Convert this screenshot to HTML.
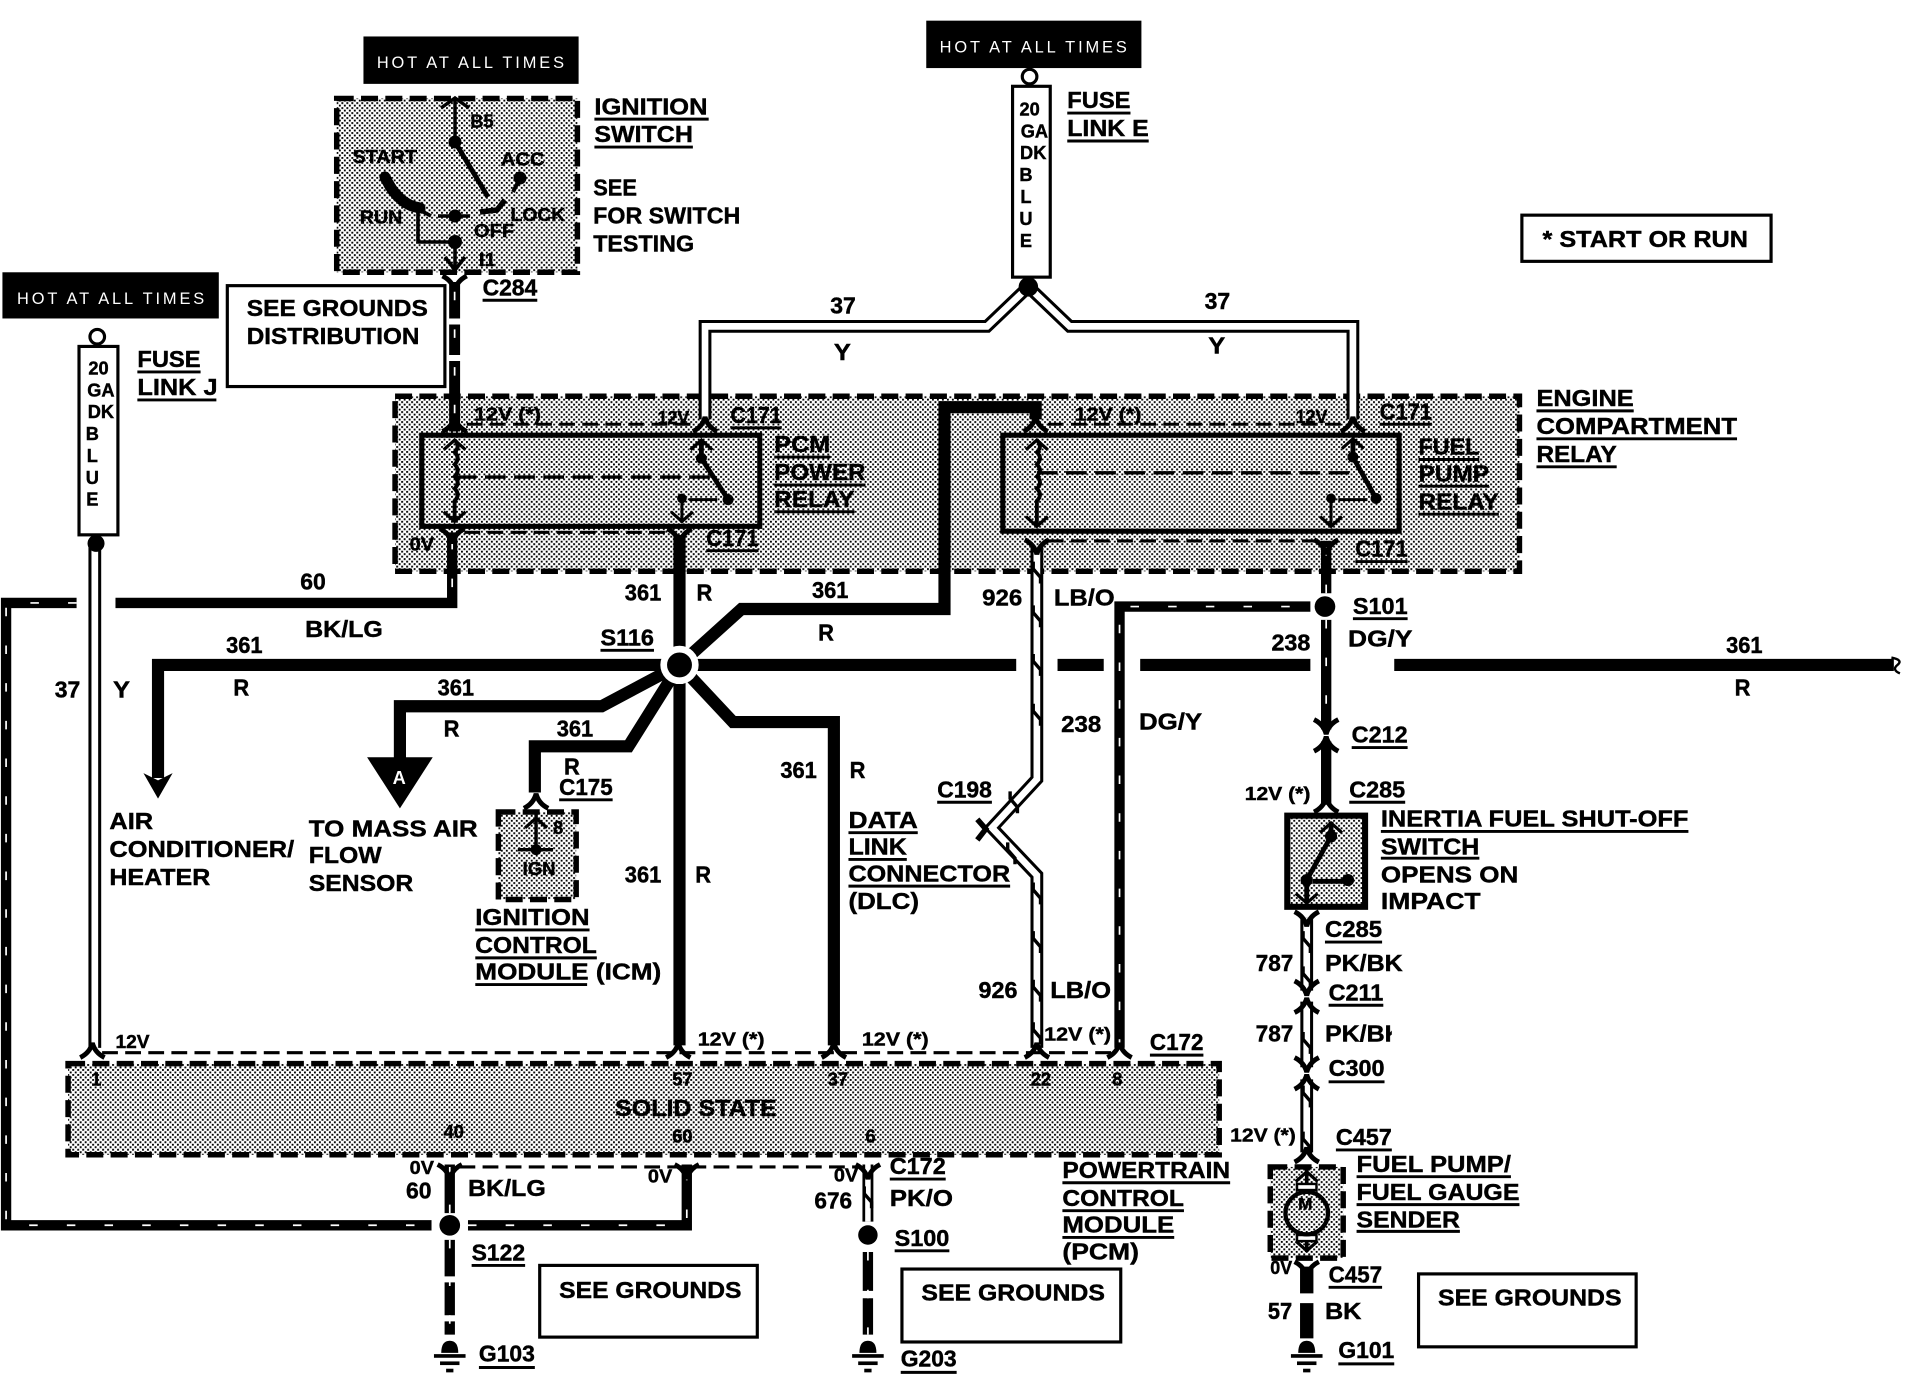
<!DOCTYPE html>
<html><head><meta charset="utf-8"><title>Fuel pump wiring diagram</title>
<style>
html,body{margin:0;padding:0;background:#fff}
svg{display:block}
text{font-family:"Liberation Sans",sans-serif;font-weight:700;fill:#000;font-size:19px;stroke:#000;stroke-width:.35}
.s{font-size:15px}
text.w{fill:#fff;stroke:none;font-weight:400;font-size:13.5px}
.d{fill:none;stroke:#000;stroke-width:4.5;stroke-dasharray:14 6}
.n{fill:none;stroke:#000;stroke-width:2.5;stroke-dasharray:13 6}
.b{fill:none;stroke:#000;stroke-width:10}
.m{fill:none;stroke:#000;stroke-width:8.5}
.l{fill:none;stroke:#000;stroke-width:3}
.t{fill:none;stroke:#fff;stroke-width:1.4;stroke-dasharray:7 24}
.dw{fill:none;stroke:#000;stroke-width:10.5}
.wi{fill:none;stroke:#fff;stroke-width:5.5}
.u{stroke:#000;stroke-width:2.4}
.r{fill:#fff;stroke:#000;stroke-width:2.6}
</style></head><body>
<svg xmlns="http://www.w3.org/2000/svg" width="1906" height="1376" viewBox="0 0 1906 1376">
<defs>
<pattern id="p" width="4.1" height="4.1" patternUnits="userSpaceOnUse"><rect width="4.1" height="4.1" fill="#fff"/><rect width="1.55" height="1.55" fill="#000"/><rect x="2.05" y="2.05" width="1.55" height="1.55" fill="#000"/></pattern>
<path id="fd" d="M-10,-8 Q-2,-4 0,4 Q2,-4 10,-8" fill="none" stroke="#000" stroke-width="4"/>
<path id="fu" d="M-10,8 Q-2,4 0,-4 Q2,4 10,8" fill="none" stroke="#000" stroke-width="4"/>
<path id="ad" d="M-9,-7 L0,1 L9,-7" fill="none" stroke="#000" stroke-width="2.6"/>
<path id="au" d="M-9,7 L0,-1 L9,7" fill="none" stroke="#000" stroke-width="2.6"/>
<path id="z" d="M-3,-9 L-3,-3 L3,4 L3,9" fill="none" stroke="#000" stroke-width="2.8"/>
<g id="gnd"><path d="M-7,10 Q-7,0 0,0 Q7,0 7,10 Z" fill="#000"/><rect x="-13" y="11" width="26" height="3" fill="#000"/><rect x="-8" y="17" width="16" height="3" fill="#000"/><rect x="-3" y="23" width="6" height="3" fill="#000"/></g>
</defs>
<rect width="1906" height="1376" fill="#fff"/>
<g transform="scale(1.21556)">
<!-- grey boxes -->
<rect x="325" y="326" width="925" height="144" fill="url(#p)"/><rect x="325" y="326" width="925" height="144" class="d"/>
<rect x="277" y="81" width="198" height="143" fill="url(#p)"/><rect x="277" y="81" width="198" height="143" class="d"/>
<rect x="56" y="875" width="947" height="75" fill="url(#p)"/><rect x="56" y="875" width="947" height="75" class="d"/>
<rect x="410" y="668" width="64" height="72" fill="url(#p)"/><rect x="410" y="668" width="64" height="72" class="d"/>
<rect x="1059" y="671" width="64" height="75" fill="url(#p)" stroke="#000" stroke-width="5"/>
<rect x="1045" y="960" width="60" height="75" fill="url(#p)"/><rect x="1045" y="960" width="60" height="75" class="d"/>
<!-- relays -->
<rect x="347" y="358" width="278" height="75" fill="none" stroke="#000" stroke-width="4.2"/>
<rect x="825" y="358" width="326" height="79" fill="none" stroke="#000" stroke-width="4.2"/>
<!-- thin connector dashed lines -->
<path class="n" d="M384,349H570M862,349H1103M382,438H550M862,445H1083M84,866H915M378,960H708"/>
<!-- black boxes -->
<rect x="299" y="30" width="177" height="39" fill="#000"/><text class="w" x="310" y="56" textLength="154">HOT AT ALL TIMES</text>
<rect x="762" y="17" width="177" height="39" fill="#000"/><text class="w" x="773" y="43" textLength="154">HOT AT ALL TIMES</text>
<rect x="2" y="224" width="178" height="38" fill="#000"/><text class="w" x="14" y="250" textLength="154">HOT AT ALL TIMES</text>
<!-- white boxes -->
<rect class="r" x="187" y="235" width="179" height="83"/>
<rect class="r" x="1252" y="177" width="205" height="38"/>
<rect class="r" x="444" y="1041" width="179" height="59"/>
<rect class="r" x="742" y="1044" width="180" height="60"/>
<rect class="r" x="1167" y="1048" width="179" height="60"/>
<!-- fuses -->
<rect class="r" x="65" y="285" width="32" height="155"/><circle cx="80" cy="277" r="6" fill="#fff" stroke="#000" stroke-width="2.6"/>
<rect class="r" x="833" y="71" width="31" height="157"/><circle cx="847" cy="63" r="6" fill="#fff" stroke="#000" stroke-width="2.6"/>
<g text-anchor="middle"><text class="s" x="81" y="308">20</text><text class="s" x="83" y="326">GA</text><text class="s" x="83" y="344">DK</text><text class="s" x="76" y="362">B</text><text class="s" x="76" y="380">L</text><text class="s" x="76" y="398">U</text><text class="s" x="76" y="416">E</text>
<text class="s" x="847" y="95">20</text><text class="s" x="851" y="113">GA</text><text class="s" x="850" y="131">DK</text><text class="s" x="844" y="149">B</text><text class="s" x="844" y="167">L</text><text class="s" x="844" y="185">U</text><text class="s" x="844" y="203">E</text></g>
<!-- red wires 361 -->
<path class="b" d="M559,440V860"/>
<path class="b" d="M559,547L610,501H777V335H852V345"/>
<path class="b" d="M559,547H130V640"/>
<path class="b" d="M559,547H836M870,547H908M938,547H1078M1147,547H1558"/>
<path class="b" d="M559,547L495,581H329V630"/>
<path class="b" d="M559,547L517,614H440V652"/>
<path class="b" d="M559,547L603,594H686V860"/>
<path d="M1556,541q10,2 5,6q-5,4 2,7" fill="none" stroke="#000" stroke-width="2"/>
<path d="M130,657L118,636L130,642L142,636Z" fill="#000"/>
<path d="M302,623H356L329,665Z" fill="#000"/><text x="323" y="645" style="fill:#fff;stroke:none;font-size:15px">A</text>
<circle cx="559" cy="547" r="13" fill="#000" stroke="#fff" stroke-width="5.5"/>
<!-- BK/LG 60 -->
<path class="m" d="M372,438V496H95M63,496H5V1008H355M385,1008H565V958"/>
<path class="t" d="M372,445V490H95M63,496H5V1008H355M385,1008H565V965"/>
<path class="m" d="M370,958V998M370,1020V1050M370,1055V1082M370,1087V1098"/>
<path class="t" d="M370,960V998M370,1020V1098"/>
<circle cx="370" cy="1008" r="8.5"/>
<!-- ignition down wire -->
<path class="b" d="M374,232V262M374,267V292M374,297V355" style="stroke-width:9"/>
<path class="t" d="M374,240V355"/>
<!-- DG/Y 238 -->
<path class="m" d="M921,862V499H1078"/>
<path class="t" d="M921,862V499H1078"/>
<path class="m" d="M1091,445V488M1091,510V600M1091,610V662"/>
<path class="t" d="M1091,450V488M1091,510V600"/>
<circle cx="1090" cy="499" r="8.5"/>
<!-- yellow double wires -->
<path class="dw" d="M580,345V268.5H812L846,236L880,268.5H1113V345"/><path class="wi" d="M580,345V268.5H812L846,236L880,268.5H1113V345"/>
<path class="dw" d="M78,862V447"/><path class="wi" d="M78,862V447"/><circle cx="79" cy="447" r="7"/>
<circle cx="846" cy="236" r="8"/>
<!-- 926 -->
<path class="dw" d="M853,450V641L816,681L853,720V862"/><path class="wi" d="M853,450V641L816,681L853,720V862"/>
<use href="#z" x="853" y="471"/><use href="#z" x="853" y="507"/><use href="#z" x="853" y="547"/><use href="#z" x="853" y="588"/>
<use href="#z" x="834" y="660"/><use href="#z" x="832" y="702"/>
<use href="#z" x="853" y="735"/><use href="#z" x="853" y="775"/><use href="#z" x="853" y="815"/><use href="#z" x="853" y="850"/>
<path d="M804,674L811,682L804,691" fill="none" stroke="#000" stroke-width="4.5"/>
<!-- 787 -->
<path class="dw" d="M1075,755V815M1075,824V878M1075,888V948"/><path class="wi" d="M1075,755V815M1075,824V878M1075,888V948"/>
<use href="#z" x="1075" y="775"/><use href="#z" x="1075" y="804"/><use href="#z" x="1075" y="858"/><use href="#z" x="1075" y="902"/><use href="#z" x="1075" y="940"/>
<!-- 676 -->
<path d="M714,958V1005" fill="none" stroke="#000" stroke-width="9"/><path d="M714,958V1005" fill="none" stroke="#fff" stroke-width="4.5"/><use href="#z" x="714" y="985"/>
<circle cx="714" cy="1016" r="8"/>
<path class="m" d="M714,1030V1062M714,1068V1098"/><path class="t" d="M714,1030V1098"/>
<!-- 57 -->
<path class="b" d="M1075,1042V1064M1075,1072V1101" style="stroke-width:11"/>
<!-- forks -->
<use href="#fd" x="374" y="235"/><use href="#fd" x="372" y="443"/><use href="#fd" x="559" y="443"/><use href="#fd" x="853" y="452"/><use href="#fd" x="1091" y="452"/>
<use href="#fu" x="374" y="347"/><use href="#fu" x="580" y="347"/><use href="#fu" x="852" y="347"/><use href="#fu" x="1113" y="347"/>
<use href="#fu" x="76" y="862"/><use href="#fu" x="558" y="862"/><use href="#fu" x="686" y="862"/><use href="#fu" x="853" y="862"/><use href="#fu" x="921" y="862"/>
<use href="#fd" x="370" y="966"/><use href="#fd" x="565" y="966"/><use href="#fd" x="714" y="966"/>
<use href="#fd" x="1091" y="600"/><use href="#fu" x="1091" y="610"/><use href="#fu" x="1091" y="660"/>
<use href="#fd" x="1075" y="758"/><use href="#fd" x="1075" y="815"/><use href="#fu" x="1075" y="825"/><use href="#fd" x="1075" y="878"/><use href="#fu" x="1075" y="888"/><use href="#fu" x="1075" y="948"/><use href="#fd" x="1075" y="1046"/><use href="#fu" x="441" y="657"/>
<!-- relay internals -->
<path d="M374,362q5,5 0,10q5,5 0,10q5,5 0,10q5,5 0,10q5,5 0,10V428" fill="none" stroke="#000" stroke-width="3.2"/>
<use href="#au" x="374" y="363"/><use href="#ad" x="374" y="428"/>
<path d="M375,392.5H585" fill="none" stroke="#000" stroke-width="2.8" stroke-dasharray="17 7"/>
<use href="#au" x="577" y="363"/><path d="M577,362V377L599,411" class="l" style="stroke-width:4"/><circle cx="577" cy="377" r="4.5"/><circle cx="599" cy="411" r="4.5"/>
<circle cx="561" cy="410" r="4"/><path d="M561,410V430M567,411H590" class="l" style="stroke-width:2.5"/><use href="#ad" x="561" y="428"/>
<path d="M853,362q5,5 0,10q5,5 0,10q5,5 0,10q5,5 0,10q5,5 0,10V432" fill="none" stroke="#000" stroke-width="3.2"/>
<use href="#au" x="853" y="363"/><use href="#ad" x="853" y="432"/>
<path d="M853,389H1110" fill="none" stroke="#000" stroke-width="2.8" stroke-dasharray="17 7"/>
<use href="#au" x="1113" y="362"/><path d="M1113,362V376L1132,410" class="l" style="stroke-width:4"/><circle cx="1113" cy="376" r="4.5"/><circle cx="1132" cy="410" r="4.5"/>
<circle cx="1095" cy="410" r="4"/><path d="M1095,410V434M1101,411H1125" class="l" style="stroke-width:2.5"/><use href="#ad" x="1095" y="432"/>
<!-- inertia internals -->
<use href="#au" x="1095" y="678"/><circle cx="1095" cy="688" r="5"/><path d="M1095,676V688L1075,724V742M1080,725H1110" class="l" style="stroke-width:4"/><circle cx="1075" cy="724" r="5"/><circle cx="1109" cy="724" r="5"/><use href="#ad" x="1075" y="742"/>
<!-- icm internals -->
<path d="M441,668V700M426,699H455" class="l" style="stroke-width:2.8"/><use href="#au" x="441" y="674"/><circle cx="441" cy="699" r="4.5"/>
<!-- pump internals -->
<use href="#au" x="1075" y="965"/><path d="M1075,962V1030" class="l"/><rect x="1067" y="974" width="16" height="5" fill="#fff" stroke="#000" stroke-width="2"/><rect x="1067" y="1016" width="16" height="5" fill="#fff" stroke="#000" stroke-width="2"/>
<circle cx="1075" cy="998" r="17.5" fill="url(#p)" stroke="#000" stroke-width="3.5"/><use href="#ad" x="1075" y="1028"/>
<!-- grounds -->
<use href="#gnd" x="370" y="1103"/><use href="#gnd" x="714" y="1103"/><use href="#gnd" x="1075" y="1103"/>
<!-- labels -->
<text x="489" y="94" textLength="93" lengthAdjust="spacingAndGlyphs">IGNITION</text><text x="489" y="117" textLength="81" lengthAdjust="spacingAndGlyphs">SWITCH</text>
<text x="488" y="161" textLength="36" lengthAdjust="spacingAndGlyphs">SEE</text><text x="488" y="184" textLength="121" lengthAdjust="spacingAndGlyphs">FOR SWITCH</text><text x="488" y="207" textLength="83" lengthAdjust="spacingAndGlyphs">TESTING</text>
<text x="397" y="243" textLength="45" lengthAdjust="spacingAndGlyphs">C284</text>
<text x="878" y="89" textLength="52" lengthAdjust="spacingAndGlyphs">FUSE</text><text x="878" y="112" textLength="67" lengthAdjust="spacingAndGlyphs">LINK E</text>
<text x="113" y="302" textLength="52" lengthAdjust="spacingAndGlyphs">FUSE</text><text x="113" y="325" textLength="66" lengthAdjust="spacingAndGlyphs">LINK J</text>
<text x="203" y="260" textLength="149" lengthAdjust="spacingAndGlyphs">SEE GROUNDS</text><text x="203" y="283" textLength="142" lengthAdjust="spacingAndGlyphs">DISTRIBUTION</text>
<text x="1269" y="203" textLength="169" lengthAdjust="spacingAndGlyphs">* START OR RUN</text>
<text x="683" y="258" textLength="21" lengthAdjust="spacingAndGlyphs">37</text><text x="686" y="296" textLength="14" lengthAdjust="spacingAndGlyphs">Y</text>
<text x="991" y="254" textLength="21" lengthAdjust="spacingAndGlyphs">37</text><text x="994" y="291" textLength="14" lengthAdjust="spacingAndGlyphs">Y</text>
<text x="1264" y="334" textLength="80" lengthAdjust="spacingAndGlyphs">ENGINE</text><text x="1264" y="357" textLength="165" lengthAdjust="spacingAndGlyphs">COMPARTMENT</text><text x="1264" y="380" textLength="66" lengthAdjust="spacingAndGlyphs">RELAY</text>
<text x="601" y="348" textLength="42" lengthAdjust="spacingAndGlyphs">C171</text><text x="1135" y="345" textLength="43" lengthAdjust="spacingAndGlyphs">C171</text><text x="581" y="449" textLength="43" lengthAdjust="spacingAndGlyphs">C171</text><text x="1115" y="458" textLength="43" lengthAdjust="spacingAndGlyphs">C171</text>
<text class="s" x="390" y="346" textLength="55" lengthAdjust="spacingAndGlyphs">12V (*)</text><text class="s" x="541" y="349" textLength="26" lengthAdjust="spacingAndGlyphs">12V</text><text class="s" x="884" y="346" textLength="55" lengthAdjust="spacingAndGlyphs">12V (*)</text><text class="s" x="1066" y="348" textLength="26" lengthAdjust="spacingAndGlyphs">12V</text>
<text class="s" x="337" y="453" textLength="20" lengthAdjust="spacingAndGlyphs">0V</text>
<text x="637" y="372" textLength="46" lengthAdjust="spacingAndGlyphs">PCM</text><text x="637" y="395" textLength="75" lengthAdjust="spacingAndGlyphs">POWER</text><text x="637" y="417" textLength="66" lengthAdjust="spacingAndGlyphs">RELAY</text>
<text x="1167" y="374" textLength="50" lengthAdjust="spacingAndGlyphs">FUEL</text><text x="1167" y="396" textLength="58" lengthAdjust="spacingAndGlyphs">PUMP</text><text x="1167" y="419" textLength="66" lengthAdjust="spacingAndGlyphs">RELAY</text>
<text x="247" y="485" textLength="21" lengthAdjust="spacingAndGlyphs">60</text><text x="251" y="524" textLength="64" lengthAdjust="spacingAndGlyphs">BK/LG</text>
<text x="514" y="494" textLength="30" lengthAdjust="spacingAndGlyphs">361</text><text x="573" y="494" textLength="13" lengthAdjust="spacingAndGlyphs">R</text><text x="668" y="492" textLength="30" lengthAdjust="spacingAndGlyphs">361</text><text x="673" y="527" textLength="13" lengthAdjust="spacingAndGlyphs">R</text>
<text x="494" y="531" textLength="44" lengthAdjust="spacingAndGlyphs">S116</text><text x="186" y="537" textLength="30" lengthAdjust="spacingAndGlyphs">361</text><text x="192" y="572" textLength="13" lengthAdjust="spacingAndGlyphs">R</text><text x="360" y="572" textLength="30" lengthAdjust="spacingAndGlyphs">361</text><text x="365" y="606" textLength="13" lengthAdjust="spacingAndGlyphs">R</text>
<text x="458" y="606" textLength="30" lengthAdjust="spacingAndGlyphs">361</text><text x="464" y="637" textLength="13" lengthAdjust="spacingAndGlyphs">R</text><text x="460" y="654" textLength="44" lengthAdjust="spacingAndGlyphs">C175</text>
<text x="45" y="574" textLength="21" lengthAdjust="spacingAndGlyphs">37</text><text x="93" y="574" textLength="14" lengthAdjust="spacingAndGlyphs">Y</text>
<text x="808" y="498" textLength="33" lengthAdjust="spacingAndGlyphs">926</text><text x="867" y="498" textLength="50" lengthAdjust="spacingAndGlyphs">LB/O</text><text x="873" y="602" textLength="33" lengthAdjust="spacingAndGlyphs">238</text><text x="937" y="600" textLength="52" lengthAdjust="spacingAndGlyphs">DG/Y</text>
<text x="1046" y="535" textLength="32" lengthAdjust="spacingAndGlyphs">238</text><text x="1109" y="532" textLength="53" lengthAdjust="spacingAndGlyphs">DG/Y</text><text x="1113" y="505" textLength="45" lengthAdjust="spacingAndGlyphs">S101</text><text x="1420" y="537" textLength="30" lengthAdjust="spacingAndGlyphs">361</text><text x="1427" y="572" textLength="13" lengthAdjust="spacingAndGlyphs">R</text>
<text x="1112" y="611" textLength="46" lengthAdjust="spacingAndGlyphs">C212</text><text x="1110" y="656" textLength="46" lengthAdjust="spacingAndGlyphs">C285</text><text class="s" x="1024" y="658" textLength="54" lengthAdjust="spacingAndGlyphs">12V (*)</text>
<text x="1136" y="680" textLength="253" lengthAdjust="spacingAndGlyphs">INERTIA FUEL SHUT-OFF</text><text x="1136" y="703" textLength="81" lengthAdjust="spacingAndGlyphs">SWITCH</text><text x="1136" y="726" textLength="113" lengthAdjust="spacingAndGlyphs">OPENS ON</text><text x="1136" y="748" textLength="82" lengthAdjust="spacingAndGlyphs">IMPACT</text>
<text x="1090" y="771" textLength="47" lengthAdjust="spacingAndGlyphs">C285</text><text x="1033" y="799" textLength="31" lengthAdjust="spacingAndGlyphs">787</text><text x="1090" y="799" textLength="64" lengthAdjust="spacingAndGlyphs">PK/BK</text><text x="1093" y="823" textLength="45" lengthAdjust="spacingAndGlyphs">C211</text>
<text x="1033" y="857" textLength="31" lengthAdjust="spacingAndGlyphs">787</text><text x="1090" y="857" textLength="64" lengthAdjust="spacingAndGlyphs">PK/BK</text><rect x="1145" y="838" width="14" height="24" fill="#fff"/>
<text x="1093" y="885" textLength="46" lengthAdjust="spacingAndGlyphs">C300</text><text class="s" x="1012" y="939" textLength="54" lengthAdjust="spacingAndGlyphs">12V (*)</text><text x="1099" y="942" textLength="46" lengthAdjust="spacingAndGlyphs">C457</text>
<text x="1116" y="964" textLength="127" lengthAdjust="spacingAndGlyphs">FUEL PUMP/</text><text x="1116" y="987" textLength="134" lengthAdjust="spacingAndGlyphs">FUEL GAUGE</text><text x="1116" y="1010" textLength="85" lengthAdjust="spacingAndGlyphs">SENDER</text>
<text class="s" x="1045" y="1048" textLength="18" lengthAdjust="spacingAndGlyphs">0V</text><text x="1093" y="1055" textLength="44" lengthAdjust="spacingAndGlyphs">C457</text><text x="1043" y="1085" textLength="20" lengthAdjust="spacingAndGlyphs">57</text><text x="1090" y="1085" textLength="30" lengthAdjust="spacingAndGlyphs">BK</text><text x="1101" y="1117" textLength="46" lengthAdjust="spacingAndGlyphs">G101</text>
<text x="90" y="682" textLength="36" lengthAdjust="spacingAndGlyphs">AIR</text><text x="90" y="705" textLength="152" lengthAdjust="spacingAndGlyphs">CONDITIONER/</text><text x="90" y="728" textLength="83" lengthAdjust="spacingAndGlyphs">HEATER</text>
<text x="254" y="688" textLength="139" lengthAdjust="spacingAndGlyphs">TO MASS AIR</text><text x="254" y="710" textLength="60" lengthAdjust="spacingAndGlyphs">FLOW</text><text x="254" y="733" textLength="86" lengthAdjust="spacingAndGlyphs">SENSOR</text>
<text x="391" y="761" textLength="94" lengthAdjust="spacingAndGlyphs">IGNITION</text><text x="391" y="784" textLength="100" lengthAdjust="spacingAndGlyphs">CONTROL</text><text x="391" y="806" textLength="153" lengthAdjust="spacingAndGlyphs">MODULE (ICM)</text>
<text x="642" y="640" textLength="30" lengthAdjust="spacingAndGlyphs">361</text><text x="699" y="640" textLength="13" lengthAdjust="spacingAndGlyphs">R</text><text x="514" y="726" textLength="30" lengthAdjust="spacingAndGlyphs">361</text><text x="572" y="726" textLength="13" lengthAdjust="spacingAndGlyphs">R</text>
<text x="698" y="681" textLength="57" lengthAdjust="spacingAndGlyphs">DATA</text><text x="698" y="703" textLength="48" lengthAdjust="spacingAndGlyphs">LINK</text><text x="698" y="725" textLength="133" lengthAdjust="spacingAndGlyphs">CONNECTOR</text><text x="698" y="748" textLength="58" lengthAdjust="spacingAndGlyphs">(DLC)</text>
<text x="771" y="656" textLength="45" lengthAdjust="spacingAndGlyphs">C198</text><text x="805" y="821" textLength="32" lengthAdjust="spacingAndGlyphs">926</text><text x="864" y="821" textLength="50" lengthAdjust="spacingAndGlyphs">LB/O</text>
<text class="s" x="95" y="862" textLength="28" lengthAdjust="spacingAndGlyphs">12V</text><text class="s" x="574" y="860" textLength="55" lengthAdjust="spacingAndGlyphs">12V (*)</text><text class="s" x="709" y="860" textLength="55" lengthAdjust="spacingAndGlyphs">12V (*)</text><text class="s" x="859" y="856" textLength="55" lengthAdjust="spacingAndGlyphs">12V (*)</text><text x="946" y="864" textLength="44" lengthAdjust="spacingAndGlyphs">C172</text>
<text class="s" x="75" y="893">1</text><text class="s" x="553" y="893">57</text><text class="s" x="681" y="893">37</text><text class="s" x="848" y="893">22</text><text class="s" x="915" y="893">8</text><text x="506" y="918" textLength="133" lengthAdjust="spacingAndGlyphs">SOLID STATE</text><text class="s" x="365" y="936">40</text><text class="s" x="553" y="940">60</text><text class="s" x="712" y="940">6</text>
<text class="s" x="337" y="966" textLength="20" lengthAdjust="spacingAndGlyphs">0V</text><text x="334" y="986" textLength="21" lengthAdjust="spacingAndGlyphs">60</text><text x="385" y="984" textLength="64" lengthAdjust="spacingAndGlyphs">BK/LG</text><text class="s" x="533" y="973" textLength="20" lengthAdjust="spacingAndGlyphs">0V</text>
<text class="s" x="686" y="972" textLength="20" lengthAdjust="spacingAndGlyphs">0V</text><text x="670" y="994" textLength="31" lengthAdjust="spacingAndGlyphs">676</text><text x="732" y="966" textLength="46" lengthAdjust="spacingAndGlyphs">C172</text><text x="732" y="992" textLength="52" lengthAdjust="spacingAndGlyphs">PK/O</text><text x="736" y="1025" textLength="45" lengthAdjust="spacingAndGlyphs">S100</text>
<text x="388" y="1037" textLength="44" lengthAdjust="spacingAndGlyphs">S122</text><text x="394" y="1120" textLength="46" lengthAdjust="spacingAndGlyphs">G103</text><text x="741" y="1124" textLength="46" lengthAdjust="spacingAndGlyphs">G203</text>
<text x="874" y="969" textLength="138" lengthAdjust="spacingAndGlyphs">POWERTRAIN</text><text x="874" y="992" textLength="100" lengthAdjust="spacingAndGlyphs">CONTROL</text><text x="874" y="1014" textLength="92" lengthAdjust="spacingAndGlyphs">MODULE</text><text x="874" y="1036" textLength="63" lengthAdjust="spacingAndGlyphs">(PCM)</text>
<text x="460" y="1068" textLength="150" lengthAdjust="spacingAndGlyphs">SEE GROUNDS</text><text x="758" y="1070" textLength="151" lengthAdjust="spacingAndGlyphs">SEE GROUNDS</text><text x="1183" y="1074" textLength="151" lengthAdjust="spacingAndGlyphs">SEE GROUNDS</text>
<text class="s" x="387" y="105" textLength="19" lengthAdjust="spacingAndGlyphs">B5</text><text class="s" x="290" y="134" textLength="53" lengthAdjust="spacingAndGlyphs">START</text><text class="s" x="412" y="136" textLength="36" lengthAdjust="spacingAndGlyphs">ACC</text><text class="s" x="296" y="184" textLength="35" lengthAdjust="spacingAndGlyphs">RUN</text><text class="s" x="420" y="182" textLength="45" lengthAdjust="spacingAndGlyphs">LOCK</text><text class="s" x="390" y="195" textLength="33" lengthAdjust="spacingAndGlyphs">OFF</text><text class="s" x="394" y="219" textLength="14" lengthAdjust="spacingAndGlyphs">I1</text>
<text class="s" x="455" y="686">8</text><text class="s" x="430" y="720" textLength="27" lengthAdjust="spacingAndGlyphs">IGN</text><text class="s" x="1068" y="995" style="font-size:14px">M</text>
<!-- underlines -->
<path class="u" d="M489,98H583M489,121H570M397,247H442M878,93H930M878,116H945M113,306H165M113,329H178M1264,338H1344M1264,361H1429M1264,384H1330M601,352H643M1135,349H1178M581,453H624M1115,462H1158M637,376H683M637,399H712M637,421H703M1167,378H1217M1167,400H1225M1167,423H1233M494,535H538M460,658H504M1113,509H1158M1112,615H1158M1110,660H1156M1136,684H1389M1136,706H1217M1090,775H1137M1093,827H1138M1093,890H1139M1099,946H1145M1116,968H1243M1116,991H1250M1116,1013H1201M1093,1059H1137M1101,1122H1147M391,765H485M391,788H491M391,810H483M698,685H755M698,707H746M698,729H831M771,660H816M946,868H990M732,970H778M736,1029H781M388,1041H432M394,1125H440M741,1129H787M874,973H1012M874,996H974M874,1018H966"/>
</g>
<!-- ignition switch internals in real pixels -->
<g fill="none" stroke="#000">
<path d="M455,100V142M441,108L455,98L469,108" stroke-width="3.5"/>
<circle cx="455" cy="142" r="6.5" fill="#000" stroke="none"/>
<path d="M455,142L488,197" stroke-width="5"/>
<path d="M480,212L497,210L505,200" stroke-width="5.5"/>
<circle cx="520" cy="178" r="6.5" fill="#000" stroke="none"/><path d="M520,178L513,192" stroke-width="4"/>
<path d="M385,177Q398,205 420,208" stroke-width="11" stroke-linecap="round"/>
<path d="M418,210V242H453M420,210L431,216M438,216H470" stroke-width="3.6"/>
<circle cx="455" cy="216" r="6.5" fill="#000" stroke="none"/><circle cx="455" cy="242" r="7" fill="#000" stroke="none"/>
<path d="M455,242V270M445,257L455,270L465,257" stroke-width="3.6"/>
</g>
</svg>
</body></html>
